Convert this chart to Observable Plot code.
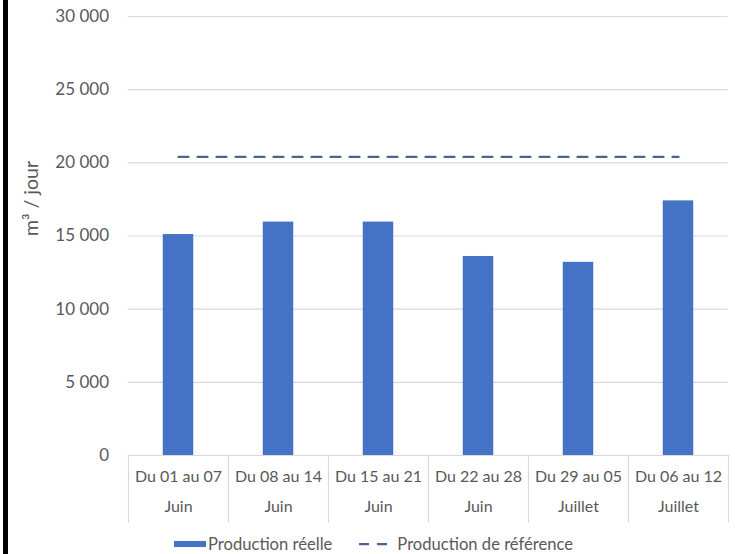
<!DOCTYPE html>
<html>
<head>
<meta charset="utf-8">
<script src="https://cdn.jsdelivr.net/npm/d3@7"></script>
<script src="https://cdn.jsdelivr.net/npm/@observablehq/plot@0.6"></script>
<style>
  html, body { margin: 0; padding: 0; background: #fff; }
  #wrap { position: relative; width: 735px; height: 554px; overflow: hidden; font-family: Lato, "Liberation Sans", sans-serif; }
  #edge { position: absolute; left: 3px; top: 0; width: 5px; height: 554px; background: #000; }
  #legend { position: absolute; left: 174px; top: 534px; height: 20px; display: flex; align-items: center; font-size: 16.6px; color: #595959; white-space: nowrap; }
  #legend .item { display: flex; align-items: center; }
</style>
</head>
<body>
<div id="wrap">
  <div id="chart"></div>
  <div id="legend"></div>
  <div id="edge"></div>
</div>
<script>
// ---- data ----
const weeks = ["Du 01 au 07", "Du 08 au 14", "Du 15 au 21", "Du 22 au 28", "Du 29 au 05", "Du 06 au 12"];
const months = ["Juin", "Juin", "Juin", "Juin", "Juillet", "Juillet"];
const production = [15100, 15950, 15950, 13600, 13200, 17400];
const reference = [20400, 20400, 20400, 20400, 20400, 20400];
const yTicks = [0, 5000, 10000, 15000, 20000, 25000, 30000];
const yTickLabels = ["0", "5 000", "10 000", "15 000", "20 000", "25 000", "30 000"];
const yTitle = "m³ / jour";
const legendLabels = ["Production réelle", "Production de référence"];

const barColor = "#4472c4";
const refColor = "#4d6391";
const gridColor = "#d9d9d9";
const textColor = "#595959";

const rows = weeks.map((w, i) => ({key: i, week: w, month: months[i], value: production[i], ref: reference[i]}));
const keys = rows.map(d => d.key);

const chart = Plot.plot({
  width: 735,
  height: 530,
  marginLeft: 127.5,
  marginRight: 7.5,
  marginTop: 16,
  marginBottom: 75,
  style: {fontFamily: "Lato, 'Liberation Sans', sans-serif", fontSize: "16px", color: textColor, background: "transparent", overflow: "visible"},
  x: {domain: keys, padding: 0, axis: null},
  y: {domain: [0, 30000], axis: null},
  marks: [
    Plot.gridY(yTicks, {stroke: gridColor, strokeOpacity: 1, strokeWidth: 1.2}),
    Plot.axisY(yTicks, {tickSize: 0, tickPadding: 19, tickFormat: (d) => yTickLabels[yTicks.indexOf(d)], fill: textColor, fontSize: 17, label: null}),
    Plot.ruleX(rows, {x: "key", dx: -50, y1: 0, y2: -4600, stroke: gridColor, strokeWidth: 1.2}),
    Plot.ruleX(rows.slice(-1), {x: "key", dx: 50, y1: 0, y2: -4600, stroke: gridColor, strokeWidth: 1.2}),
    Plot.barY(rows, {x: "key", y: "value", fill: barColor, insetLeft: 34.75, insetRight: 34.75}),
    Plot.lineY(rows, {x: "key", y: "ref", stroke: refColor, strokeWidth: 2.25, strokeDasharray: "10 9"}),
    Plot.text(rows, {x: "key", text: "week", frameAnchor: "bottom", dy: 26, fill: textColor, fontSize: 16}),
    Plot.text(rows, {x: "key", text: "month", frameAnchor: "bottom", dy: 56, fill: textColor, fontSize: 16}),
    Plot.text([yTitle], {text: d => d, frameAnchor: "left", rotate: -90, dx: -96, fill: textColor, fontSize: 19.5})
  ]
});
document.getElementById("chart").appendChild(chart);

// ---- legend ----
const legend = d3.select("#legend");
const it1 = legend.append("div").attr("class", "item");
const s1 = it1.append("svg").attr("width", 32).attr("height", 8).style("margin-right", "2px");
s1.append("rect").attr("x", 0).attr("y", 1).attr("width", 32).attr("height", 6).attr("fill", barColor);
it1.append("span").text(legendLabels[0]);
const it2 = legend.append("div").attr("class", "item").style("margin-left", "27px");
const s2 = it2.append("svg").attr("width", 30).attr("height", 8).style("margin-right", "8px");
s2.append("line").attr("x1", 0).attr("x2", 30).attr("y1", 4).attr("y2", 4)
  .attr("stroke", refColor).attr("stroke-width", 2.25).attr("stroke-dasharray", "10 8");
it2.append("span").text(legendLabels[1]);
</script>
</body>
</html>
